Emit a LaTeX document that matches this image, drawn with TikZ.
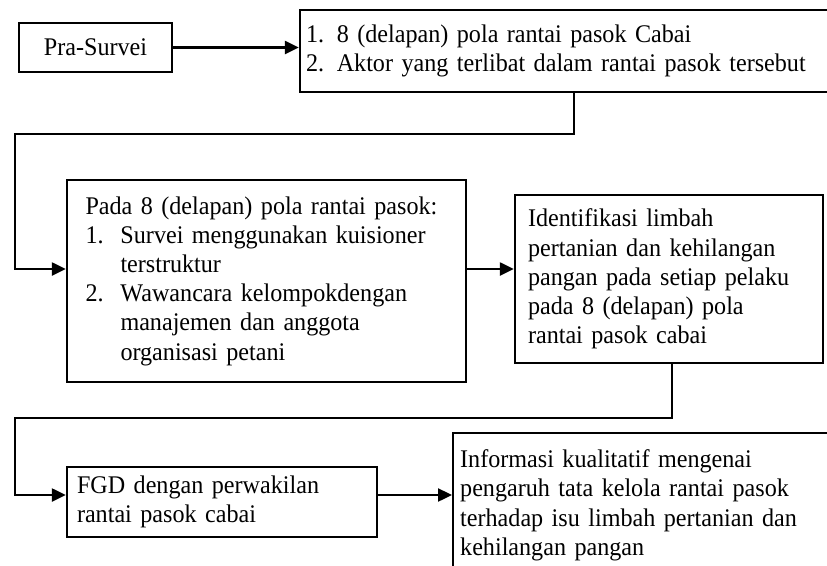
\documentclass[tikz,border=0pt]{standalone}
\usepackage{fontspec}
\setmainfont{Liberation Serif}[FakeStretch=0.95]
\usetikzlibrary{arrows.meta}

\begin{document}
\begin{tikzpicture}[x=1pt, y=-1pt,
    kotak/.style={draw, line width=2.4pt, align=left, inner xsep=0pt, inner ysep=0pt,
        font=\fontsize{25.4}{29.2}\selectfont},
    garis/.style={line width=2.4pt},
    panah/.style={garis, -{Triangle[length=14pt,width=13pt]}}]
        % Page frame
        \useasboundingbox (0,0) rectangle (827,565);
        \clip (0,0) rectangle (827,565);

        % Draw the boxes of the flow
        \node[kotak, align=center, minimum width=153pt, minimum height=49pt] (prasurvei) at (95.5,47.5) {Pra-Survei};
        \node[kotak, minimum width=560pt, minimum height=82pt, text width=548pt] (hasil) at (580,51)
            {1. 8 (delapan) pola rantai pasok Cabai\\
             2. Aktor yang terlibat dalam rantai pasok tersebut};
        \node[kotak, minimum width=399pt, minimum height=202pt, text width=362pt] (survei) at (266.5,281)
            {Pada 8 (delapan) pola rantai pasok:\\
             \makebox[35pt][l]{1.}Survei menggunakan kuisioner\\
             \hspace*{35pt}terstruktur\\
             \makebox[35pt][l]{2.}Wawancara kelompokdengan\\
             \hspace*{35pt}manajemen dan anggota\\
             \hspace*{35pt}organisasi petani};
        \node[kotak, minimum width=308pt, minimum height=168pt, text width=282pt] (identifikasi) at (669,279)
            {Identifikasi limbah\\
             pertanian dan kehilangan\\
             pangan pada setiap pelaku\\
             pada 8 (delapan) pola\\
             rantai pasok cabai};
        \node[kotak, minimum width=310pt, minimum height=70pt, text width=290pt] (fgd) at (222,502)
            {FGD dengan perwakilan\\
             rantai pasok cabai};
        \node[kotak, anchor=north west, inner xsep=7pt, inner ysep=16.7pt, text width=440pt] (informasi) at (452,432)
            {Informasi kualitatif mengenai\\
             pengaruh tata kelola rantai pasok\\
             terhadap isu limbah pertanian dan\\
             kehilangan pangan};

        % Bends of the connectors
        \coordinate (turun1) at (574,134);
        \coordinate (kiri1) at (15,134);
        \coordinate (masuk1) at (15,269);
        \coordinate (turun2) at (672,418);
        \coordinate (kiri2) at (15,418);
        \coordinate (masuk2) at (15,495);

        % Draw the arrows between the boxes
        \draw[panah] (prasurvei.east) -- (prasurvei.east -| hasil.west);
        \draw[panah] (hasil.south -| turun1) -- (turun1) -- (kiri1) -- (masuk1) -- (masuk1 -| survei.west);
        \draw[panah] (survei.east |- masuk1) -- (identifikasi.west |- masuk1);
        \draw[panah] (identifikasi.south -| turun2) -- (turun2) -- (kiri2) -- (masuk2) -- (masuk2 -| fgd.west);
        \draw[panah] (fgd.east |- masuk2) -- (informasi.west |- masuk2);
    \end{tikzpicture}
\end{document}
